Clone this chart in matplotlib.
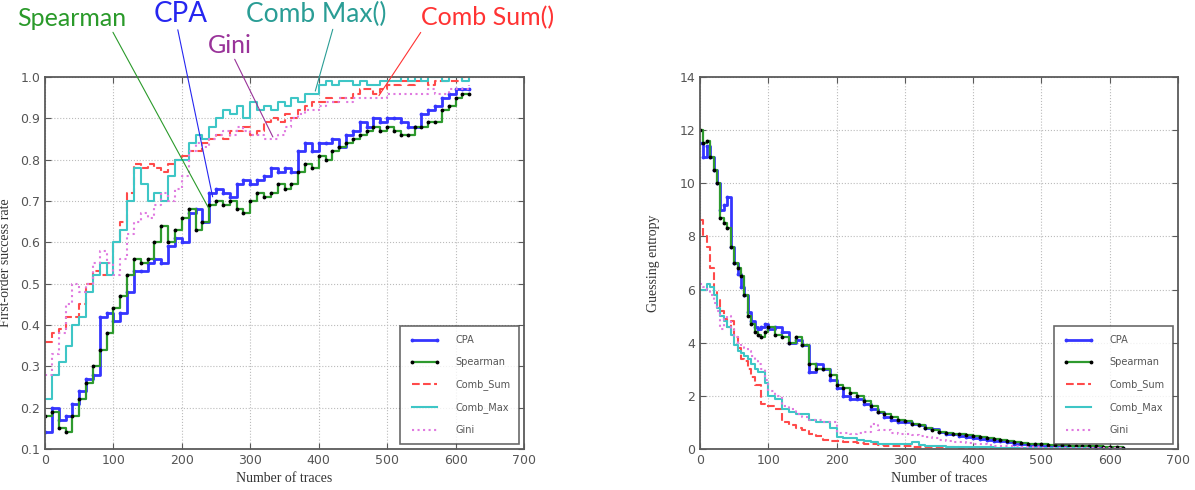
import numpy as np
import matplotlib.pyplot as plt

# number of traces (left: every 10, right: every 5 up to 100 then every 10)
traces_sr = list(range(0, 630, 10))
traces_ge = list(range(0, 105, 5)) + list(range(110, 630, 10))

# first-order success rate
sr_cpa = [0.14, 0.20, 0.17, 0.18, 0.21, 0.24, 0.27, 0.28, 0.42, 0.43, 0.41, 0.43, 0.48, 0.53, 0.53,
          0.55, 0.56, 0.55, 0.59, 0.61, 0.60, 0.67, 0.68, 0.65, 0.72, 0.73, 0.72, 0.71, 0.74, 0.75,
          0.74, 0.75, 0.76, 0.78, 0.77, 0.78, 0.77, 0.82, 0.84, 0.82, 0.84, 0.84, 0.85, 0.83, 0.86,
          0.87, 0.89, 0.88, 0.90, 0.89, 0.90, 0.90, 0.89, 0.88, 0.88, 0.91, 0.92, 0.93, 0.95, 0.96,
          0.97, 0.97, 0.97]
sr_spearman = [0.18, 0.19, 0.15, 0.14, 0.18, 0.22, 0.26, 0.30, 0.34, 0.38, 0.44, 0.47, 0.52, 0.56, 0.55,
               0.56, 0.60, 0.64, 0.60, 0.63, 0.66, 0.68, 0.63, 0.65, 0.69, 0.70, 0.69, 0.70, 0.68, 0.67,
               0.70, 0.72, 0.71, 0.72, 0.74, 0.73, 0.74, 0.77, 0.79, 0.78, 0.81, 0.80, 0.82, 0.83, 0.84,
               0.85, 0.86, 0.87, 0.88, 0.87, 0.88, 0.87, 0.86, 0.86, 0.88, 0.88, 0.89, 0.89, 0.92, 0.93,
               0.95, 0.96, 0.96]
sr_comb_sum = [0.36, 0.38, 0.39, 0.42, 0.42, 0.45, 0.50, 0.53, 0.52, 0.55, 0.60, 0.65, 0.72, 0.79, 0.78,
               0.79, 0.78, 0.77, 0.79, 0.80, 0.81, 0.82, 0.82, 0.84, 0.85, 0.86, 0.85, 0.87, 0.87, 0.88,
               0.86, 0.87, 0.89, 0.90, 0.89, 0.91, 0.90, 0.92, 0.93, 0.94, 0.94, 0.95, 0.94, 0.95, 0.95,
               0.96, 0.97, 0.97, 0.96, 0.97, 0.98, 0.98, 0.99, 0.98, 0.99, 0.99, 0.98, 0.99, 0.99, 0.99,
               0.99, 1.00, 1.00]
sr_comb_max = [0.22, 0.28, 0.31, 0.35, 0.40, 0.42, 0.48, 0.52, 0.55, 0.52, 0.60, 0.63, 0.70, 0.78, 0.74,
               0.70, 0.72, 0.70, 0.76, 0.80, 0.80, 0.84, 0.86, 0.85, 0.88, 0.90, 0.92, 0.91, 0.93, 0.90,
               0.94, 0.92, 0.93, 0.92, 0.94, 0.93, 0.95, 0.94, 0.96, 0.96, 0.98, 0.99, 0.98, 0.99, 0.99,
               0.98, 0.99, 0.98, 0.98, 0.99, 0.99, 0.99, 1.00, 0.99, 1.00, 0.99, 1.00, 1.00, 0.99, 1.00,
               1.00, 0.99, 1.00]
sr_gini = [0.28, 0.33, 0.38, 0.45, 0.50, 0.48, 0.50, 0.55, 0.58, 0.55, 0.52, 0.56, 0.62, 0.65, 0.67,
           0.66, 0.69, 0.72, 0.70, 0.73, 0.76, 0.82, 0.84, 0.83, 0.85, 0.86, 0.87, 0.86, 0.88, 0.87,
           0.86, 0.86, 0.85, 0.85, 0.86, 0.88, 0.90, 0.91, 0.92, 0.92, 0.93, 0.94, 0.94, 0.95, 0.94,
           0.95, 0.95, 0.95, 0.95, 0.95, 0.96, 0.96, 0.96, 0.96, 0.96, 0.96, 0.97, 0.96, 0.96, 0.97,
           0.97, 0.97, 0.98]

# guessing entropy
ge_cpa = [11.5, 11.0, 11.4, 11.0, 10.5, 10.0, 9.0, 9.2, 9.5, 7.6, 7.0, 6.6, 6.1, 5.8, 5.15, 4.8, 4.6,
          4.5, 4.6, 4.7, 4.5,
          4.6, 4.4, 4.0, 4.1, 3.9, 2.9, 3.2, 3.0, 2.6, 2.3, 2.0, 1.9, 1.9, 1.7, 1.5, 1.4, 1.2, 1.1,
          1.0, 1.0, 0.95, 0.9, 0.8, 0.75, 0.65, 0.55, 0.55, 0.5, 0.45, 0.4, 0.38, 0.35, 0.3, 0.3,
          0.25, 0.2, 0.18, 0.15, 0.13, 0.12, 0.1, 0.1, 0.09, 0.08, 0.07, 0.06, 0.06, 0.05, 0.05,
          0.05, 0.05, 0.05]
ge_spearman = [12.0, 11.5, 11.6, 11.0, 10.5, 10.0, 8.7, 8.5, 8.3, 7.6, 7.0, 6.8, 6.5, 5.8, 5.0, 4.7,
               4.4, 4.3, 4.2, 4.4, 4.6,
               4.3, 4.2, 4.0, 4.2, 3.9, 3.2, 3.0, 3.0, 2.8, 2.4, 2.3, 2.1, 2.0, 1.8, 1.6, 1.4, 1.3,
               1.2, 1.1, 1.05, 0.95, 0.9, 0.8, 0.7, 0.65, 0.6, 0.58, 0.55, 0.52, 0.5, 0.45, 0.4,
               0.38, 0.35, 0.3, 0.25, 0.22, 0.2, 0.19, 0.18, 0.16, 0.15, 0.14, 0.13, 0.12, 0.12,
               0.11, 0.1, 0.08, 0.07, 0.06, 0.05]
ge_comb_sum = [8.6, 8.0, 7.6, 6.8, 6.0, 5.6, 5.2, 4.9, 4.6, 4.8, 4.2, 3.8, 3.4, 3.3, 3.0, 2.7, 2.4,
               2.4, 1.7, 1.6, 1.6,
               1.5, 1.0, 0.9, 0.8, 0.7, 0.55, 0.5, 0.35, 0.3, 0.3, 0.28, 0.25, 0.22, 0.2, 0.18, 0.15,
               0.13, 0.12, 0.11, 0.1, 0.09, 0.08, 0.08, 0.07, 0.07, 0.06, 0.06, 0.05, 0.05, 0.05,
               0.04, 0.04, 0.04, 0.03, 0.03, 0.03, 0.02, 0.02, 0.02, 0.02, 0.02, 0.01, 0.01, 0.01,
               0.01, 0.01, 0.01, 0.0, 0.0, 0.0, 0.0, 0.0]
ge_comb_max = [6.0, 6.0, 6.2, 6.1, 5.8, 5.3, 5.0, 4.8, 4.6, 4.3, 3.9, 3.7, 3.6, 3.5, 3.4, 3.2, 3.0,
               2.9, 2.9, 2.5, 2.0,
               1.9, 1.5, 1.4, 1.3, 1.3, 1.1, 1.0, 1.0, 0.8, 0.45, 0.42, 0.4, 0.35, 0.3, 0.25, 0.2,
               0.2, 0.2, 0.18, 0.2, 0.25, 0.15, 0.12, 0.1, 0.1, 0.09, 0.08, 0.08, 0.07, 0.07, 0.06,
               0.06, 0.05, 0.05, 0.05, 0.04, 0.04, 0.03, 0.03, 0.03, 0.02, 0.02, 0.02, 0.02, 0.02,
               0.02, 0.01, 0.01, 0.01, 0.01, 0.01, 0.01]
ge_gini = [6.2, 6.1, 6.0, 5.8, 5.5, 5.2, 4.5, 4.9, 5.0, 4.5, 4.2, 4.0, 3.9, 3.8, 3.7, 3.5, 3.3, 3.2,
           3.0, 2.6, 2.2,
           2.0, 1.6, 1.5, 1.3, 1.2, 1.1, 1.1, 1.0, 1.0, 0.6, 0.6, 0.55, 0.6, 0.65, 0.95, 0.7, 0.7,
           0.6, 0.58, 0.55, 0.52, 0.5, 0.45, 0.4, 0.35, 0.3, 0.28, 0.25, 0.22, 0.2, 0.18, 0.15,
           0.13, 0.12, 0.11, 0.1, 0.08, 0.07, 0.06, 0.05, 0.05, 0.04, 0.04, 0.03, 0.03, 0.03, 0.02,
           0.02, 0.02, 0.02, 0.02, 0.02]

labels = ["CPA", "Spearman", "Comb_Sum", "Comb_Max", "Gini"]

# (color, linestyle, marker, marker edge colour, linewidth)
styles = [
    ("#3535ff", "-", ".", "#3535ff", 2.0),
    ("#2e9a2e", "-", ".", "black", 1.6),
    ("#ff4a4a", "--", None, None, 1.5),
    ("#3ec6c6", "-", None, None, 1.5),
    ("#e07ae0", ":", None, None, 1.5),
]

tick_color = "#555555"
serif = "Liberation Serif"


def style_axes(ax):
    for sp in ax.spines.values():
        sp.set_color("#5a5a5a")
        sp.set_linewidth(1.3)
    ax.tick_params(direction="in", top=True, right=True, length=4,
                   colors="#5a5a5a", labelcolor=tick_color, labelsize=9)
    ax.grid(True, ls=":", color="#bbbbbb", lw=0.8)
    ax.set_xlim(0, 700)
    ax.set_xlabel("Number of traces", family=serif, fontsize=10, color="#333333")


def draw(ax, x, series):
    for y, lab, (c, ls, mk, mec, lw) in zip(series, labels, styles):
        ax.plot(x, y, color=c, ls=ls, lw=lw, marker=mk, markersize=3.5,
                markeredgecolor=mec, markerfacecolor=mec, drawstyle="steps-post", label=lab)
    leg = ax.legend(loc="lower right", fontsize=7, numpoints=2, fancybox=False,
                    labelspacing=1.25, handlelength=3.2, borderpad=0.9,
                    handletextpad=1.6, borderaxespad=0.5)
    leg.get_frame().set_edgecolor("#444444")
    leg.get_frame().set_linewidth(1.2)
    for t in leg.get_texts():
        t.set_color("#555555")


fig = plt.figure(figsize=(11.95, 4.9), dpi=100)
ax1 = fig.add_axes([45 / 1195, 41 / 490, 479 / 1195, 372 / 490])
ax2 = fig.add_axes([700 / 1195, 41 / 490, 478 / 1195, 372 / 490])

draw(ax1, traces_sr, [sr_cpa, sr_spearman, sr_comb_sum, sr_comb_max, sr_gini])
style_axes(ax1)
ax1.set_ylim(0.1, 1.0)
ax1.set_yticks(np.arange(0.1, 1.01, 0.1))
ax1.set_ylabel("First-order success rate", family=serif, fontsize=10, color="#333333", labelpad=6)

draw(ax2, traces_ge, [ge_cpa, ge_spearman, ge_comb_sum, ge_comb_max, ge_gini])
style_axes(ax2)
ax2.set_ylim(0, 14)
ax2.set_yticks(range(0, 15, 2))
ax2.set_ylabel("Guessing entropy", family=serif, fontsize=10, color="#333333", labelpad=14)

# callouts above the left panel: (text, colour, text pos in px from top-left, point, relpos, size)
callouts = [
    ("Spearman", "#2a9a2a", (72, 18), (240, 0.68), (0.85, 0.1), 18),
    ("CPA", "#2626f0", (181, 14), (245, 0.71), (0.42, 0.1), 20),
    ("Gini", "#993399", (230, 45), (333, 0.855), (0.55, 0.1), 18),
    ("Comb Max()", "#2a9d95", (316, 14), (395, 0.966), (0.63, 0.1), 19),
    ("Comb Sum()", "#ff3333", (488, 18), (488, 0.955), (0.02, 0.1), 18),
]
for txt, c, (px, py), xy, rp, fs in callouts:
    ax1.annotate(txt, xy=xy, xycoords="data", xytext=(px, 490 - py),
                 textcoords="figure pixels", ha="center", va="center",
                 color=c, fontsize=fs, family="Lato",
                 arrowprops=dict(arrowstyle="-", color=c, lw=0.8, relpos=rp,
                                 shrinkA=0, shrinkB=0))

fig.savefig("out.png", dpi=100)
